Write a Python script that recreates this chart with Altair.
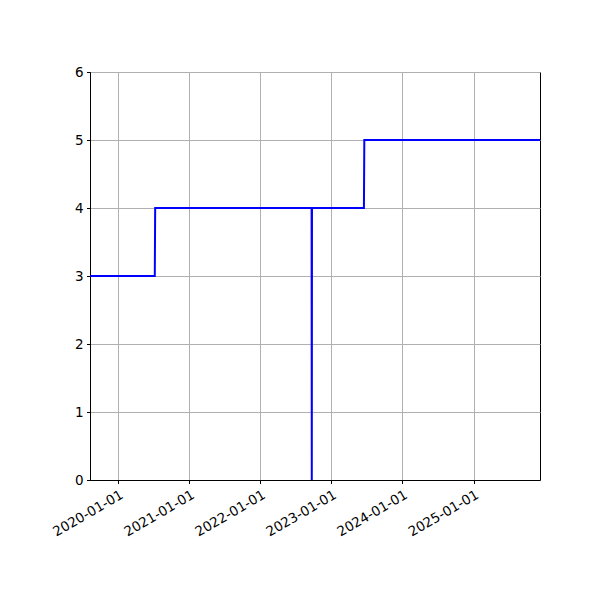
import altair as alt
import pandas as pd

dates = ["2019-08-09", "2020-07-07", "2020-07-09", "2022-09-21", "2022-09-22",
         "2022-09-23", "2023-06-17", "2023-06-19", "2025-12-08"]
values = [3, 3, 4, 4, 0, 4, 4, 5, 5]
tick_years = [2020, 2021, 2022, 2023, 2024, 2025]
y_ticks = [0, 1, 2, 3, 4, 5, 6]

df = pd.DataFrame({"date": dates, "value": values})

font = "DejaVu Sans"

chart = alt.Chart(df).mark_line(color="#0000ff", strokeWidth=2, interpolate="linear").encode(
    x=alt.X("date:T",
            scale=alt.Scale(type="utc", domain=[alt.DateTime(year=2019, month=8, date=9, utc=True),
                                                alt.DateTime(year=2025, month=12, date=8, utc=True)],
                            nice=False),
            axis=alt.Axis(values=[alt.DateTime(year=y, month=1, date=1, utc=True) for y in tick_years],
                          labelExpr="utcFormat(datum.value, '%Y-%m-%d')", title=None,
                          labelAngle=330, labelAlign="right", labelBaseline="top",
                          labelPadding=4)),
    y=alt.Y("value:Q", scale=alt.Scale(domain=[0, 6], nice=False),
            axis=alt.Axis(values=y_ticks, title=None, format="d", labelPadding=3.5)),
).properties(
    width=450, height=408,
    autosize=alt.AutoSizeParams(type="none"),
    padding={"left": 82, "top": 64, "right": 52, "bottom": 112},
).configure_view(
    stroke="black", strokeWidth=1
).configure_axis(
    grid=True, gridColor="#b0b0b0", gridWidth=1, gridOpacity=1,
    domainColor="black", domainWidth=1,
    tickColor="black", tickSize=3.5, tickWidth=1,
    labelFont=font, labelFontSize=13.5, labelColor="black",
    labelFlush=False, labelOverlap=False,
)

chart.save("out.html", embed_options={"renderer": "svg", "actions": False})
